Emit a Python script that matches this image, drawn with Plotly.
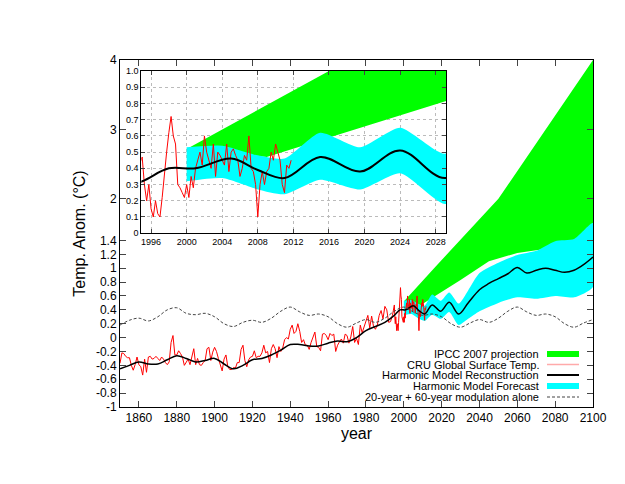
import plotly.graph_objects as go

#### data ####
cru_years = list(range(1850, 1995))
cru_annual = [-0.37, -0.22, -0.23, -0.27, -0.29, -0.29, -0.40, -0.47, -0.39, -0.28,
              -0.39, -0.42, -0.54, -0.31, -0.50, -0.28, -0.27, -0.31, -0.30, -0.27,
              -0.30, -0.33, -0.28, -0.31, -0.36, -0.39, -0.35, -0.07, 0.03, -0.25,
              -0.25, -0.19, -0.23, -0.28, -0.40, -0.35, -0.31, -0.39, -0.26, -0.16,
              -0.39, -0.30, -0.39, -0.40, -0.36, -0.33, -0.16, -0.14, -0.33, -0.21,
              -0.14, -0.20, -0.30, -0.39, -0.48, -0.31, -0.25, -0.42, -0.46, -0.46,
              -0.43, -0.44, -0.36, -0.36, -0.17, -0.11, -0.33, -0.42, -0.32, -0.28,
              -0.27, -0.19, -0.29, -0.27, -0.27, -0.22, -0.11, -0.22, -0.20, -0.36,
              -0.16, -0.10, -0.16, -0.29, -0.13, -0.20, -0.15, -0.03, 0.00, -0.02,
              0.12, 0.18, 0.06, 0.09, 0.20, 0.09, -0.07, -0.03, -0.11, -0.11,
              -0.17, -0.07, 0.01, 0.08, -0.13, -0.14, -0.19, 0.05, 0.06, 0.03,
              -0.03, 0.06, 0.03, 0.05, -0.20, -0.11, -0.06, -0.02, -0.08, 0.05,
              0.03, -0.08, 0.01, 0.16, -0.07, -0.01, -0.10, 0.18, 0.07, 0.16,
              0.26, 0.32, 0.14, 0.31, 0.16, 0.12, 0.18, 0.32, 0.39, 0.27,
              0.45, 0.40, 0.22, 0.23, 0.32]
# quarterly values 1995-2011
cru_q_years = [1995 + i * 0.25 for i in range(68)]
cru_quarterly = [0.47, 0.30, 0.20, 0.30, 0.15, 0.10, 0.20, 0.12, 0.10, 0.22, 0.38, 0.50,
                 0.62, 0.72, 0.60, 0.55, 0.30, 0.28, 0.25, 0.22, 0.30, 0.22, 0.35, 0.28,
                 0.40, 0.45, 0.50, 0.42, 0.60, 0.50, 0.45, 0.40, 0.55, 0.35, 0.50, 0.48,
                 0.45, 0.42, 0.55, 0.38, 0.50, 0.52, 0.48, 0.45, 0.35, 0.40, 0.48, 0.45,
                 0.60, 0.40, 0.38, 0.30, 0.10, 0.30, 0.38, 0.30, 0.38, 0.40, 0.50, 0.45,
                 0.55, 0.50, 0.45, 0.30, 0.25, 0.42, 0.40, 0.45]

model_years = [1850, 1855, 1860, 1865, 1870, 1875, 1880, 1885, 1890, 1895, 1900, 1905,
               1910, 1915, 1920, 1925, 1930, 1935, 1940, 1945, 1950, 1955, 1960, 1965,
               1970, 1975, 1980, 1985, 1990, 1995, 1998, 2001, 2005, 2008, 2011, 2015,
               2019.5, 2024, 2029, 2034, 2040, 2045, 2050, 2055, 2060, 2065, 2070, 2075,
               2080, 2085, 2090, 2095, 2100]
model = [-0.45, -0.40, -0.35, -0.38, -0.38, -0.32, -0.26, -0.30, -0.35, -0.33, -0.30, -0.38,
         -0.45, -0.40, -0.32, -0.30, -0.25, -0.18, -0.10, -0.10, -0.12, -0.12, -0.08, -0.05,
         -0.06, 0.00, 0.10, 0.16, 0.22, 0.32, 0.40, 0.40, 0.46, 0.39, 0.34, 0.47,
         0.38, 0.51, 0.34, 0.50, 0.69, 0.78, 0.85, 0.92, 1.01, 0.93, 0.97, 1.00,
         0.97, 0.94, 0.97, 1.05, 1.16]

band_years = [2000, 2004, 2008, 2011, 2015, 2019.5, 2024, 2029, 2034, 2040, 2050, 2060, 2070, 2080, 2090, 2100]
band_upper = [0.53, 0.54, 0.48, 0.46, 0.62, 0.53, 0.65, 0.49, 0.68, 0.93, 1.08, 1.19, 1.25, 1.39, 1.42, 1.65]
band_lower = [0.32, 0.34, 0.27, 0.24, 0.33, 0.27, 0.37, 0.18, 0.27, 0.38, 0.50, 0.58, 0.56, 0.60, 0.58, 0.73]

ipcc_up_years = [2000, 2016, 2050, 2100]
ipcc_upper = [0.52, 1.00, 2.00, 4.00]
ipcc_lo_years = [2000, 2009, 2030, 2045, 2060, 2080, 2090, 2100]
ipcc_lower = [0.52, 0.47, 0.83, 1.10, 1.22, 1.30, 1.40, 1.65]

mod_years = list(range(1850, 2101, 5))
modulation = [0.18, 0.25, 0.28, 0.24, 0.30, 0.40, 0.43, 0.35, 0.33, 0.35, 0.30, 0.20,
              0.16, 0.22, 0.25, 0.22, 0.28, 0.38, 0.44, 0.37, 0.32, 0.34, 0.30, 0.20,
              0.15, 0.21, 0.26, 0.22, 0.28, 0.38, 0.44, 0.37, 0.32, 0.34, 0.30, 0.20,
              0.15, 0.21, 0.26, 0.22, 0.28, 0.38, 0.44, 0.37, 0.32, 0.34, 0.30, 0.20,
              0.15, 0.21, 0.26]

main_yticks = [-1, -0.8, -0.6, -0.4, -0.2, 0, 0.2, 0.4, 0.6, 0.8, 1, 1.2, 1.4, 2, 3, 4]
legend_names = ['IPCC 2007 projection', 'CRU Global Surface Temp.', 'Harmonic Model Reconstruction',
                'Harmonic Model Forecast', '20-year + 60-year modulation alone']

GREEN = '#00ff00'
CYAN = '#00ffff'
FONT = 'Liberation Sans, Arial, sans-serif'

cru_x = cru_years + cru_q_years
cru_y = cru_annual + cru_quarterly

fig = go.Figure()
for xa, ya, lw in [('x', 'y', 1.5), ('x2', 'y2', 2)]:
    fig.add_trace(go.Scatter(x=ipcc_up_years + ipcc_lo_years[::-1], y=ipcc_upper + ipcc_lower[::-1],
                             fill='toself', fillcolor=GREEN, line=dict(width=0), mode='lines',
                             xaxis=xa, yaxis=ya, hoverinfo='skip'))
    fig.add_trace(go.Scatter(x=band_years + band_years[::-1], y=band_upper + band_lower[::-1],
                             fill='toself', fillcolor=CYAN, line=dict(width=0, shape='spline', smoothing=0.6),
                             mode='lines', xaxis=xa, yaxis=ya, hoverinfo='skip'))
    fig.add_trace(go.Scatter(x=cru_x, y=cru_y, mode='lines', line=dict(color='red', width=1),
                             xaxis=xa, yaxis=ya))
    fig.add_trace(go.Scatter(x=model_years, y=model, mode='lines', line=dict(color='black', width=lw, shape='spline'),
                             xaxis=xa, yaxis=ya))
    if xa == 'x':
        fig.add_trace(go.Scatter(x=mod_years, y=modulation, mode='lines',
                                 line=dict(color='#444444', width=1, dash='3px,2px', shape='spline'),
                                 xaxis=xa, yaxis=ya))

fig.update_layout(
    width=625, height=484, showlegend=False,
    margin=dict(l=112, r=40, t=52, b=85),
    paper_bgcolor='white', plot_bgcolor='white',
    font=dict(family=FONT, size=11, color='black'),
    xaxis=dict(range=[1850, 2100], tickvals=list(range(1860, 2101, 20)), ticks='inside', ticklen=6,
               showline=True, linecolor='black', mirror='ticks', showgrid=False, zeroline=False,
               tickfont=dict(size=12),
               title=dict(text='year', font=dict(size=16), standoff=2)),
    yaxis=dict(range=[-1, 4], tickvals=main_yticks, ticktext=[f'{v:g}' for v in main_yticks],
               ticks='inside', ticklen=6, showline=True, linecolor='black', mirror='ticks',
               showgrid=False, zeroline=False, tickfont=dict(size=12),
               title=dict(text='Temp. Anom. (°C)', font=dict(size=16), standoff=6)),
    xaxis2=dict(domain=[0.045, 0.69], anchor='y2', range=[1994.9, 2029.2],
                tickvals=list(range(1996, 2029, 4)), ticks='inside', ticklen=4,
                showline=True, linecolor='black', mirror='ticks', showgrid=True,
                gridcolor='#bbbbbb', griddash='dot', gridwidth=1, zeroline=False,
                tickfont=dict(size=9)),
    yaxis2=dict(domain=[0.501, 0.968], anchor='x2', range=[0, 1.0],
                tickvals=[i / 10 for i in range(11)],
                ticktext=['0'] + [f'{i / 10:.1f}' for i in range(1, 11)],
                ticks='inside', ticklen=4, showline=True, linecolor='black', mirror='ticks',
                showgrid=True, gridcolor='#bbbbbb', griddash='dot', gridwidth=1, zeroline=False,
                tickfont=dict(size=9)),
)

#### legend drawn gnuplot-style: text then sample ####
def px(xp):
    return (xp - 112) / 473

def py(yp):
    return (399 - yp) / 347

rows = [346, 356.5, 367, 378, 389]
for name, yr in zip(legend_names, rows):
    fig.add_annotation(x=px(533), y=py(yr), xref='paper', yref='paper', text=name,
                       showarrow=False, xanchor='right', yanchor='middle', font=dict(size=11))
fig.add_shape(type='rect', xref='paper', yref='paper', x0=px(539), x1=px(571),
              y0=py(rows[0] + 3), y1=py(rows[0] - 3), fillcolor=GREEN, line=dict(width=0))
fig.add_shape(type='line', xref='paper', yref='paper', x0=px(539), x1=px(571),
              y0=py(rows[1]), y1=py(rows[1]), line=dict(color='#ffaaaa', width=1.5))
fig.add_shape(type='line', xref='paper', yref='paper', x0=px(539), x1=px(571),
              y0=py(rows[2]), y1=py(rows[2]), line=dict(color='black', width=2))
fig.add_shape(type='rect', xref='paper', yref='paper', x0=px(539), x1=px(571),
              y0=py(rows[3] + 3), y1=py(rows[3] - 3), fillcolor=CYAN, line=dict(width=0))
fig.add_shape(type='line', xref='paper', yref='paper', x0=px(539), x1=px(571),
              y0=py(rows[4]), y1=py(rows[4]), line=dict(color='#444444', width=1, dash='3px,2px'))

fig.write_html("out.html")
